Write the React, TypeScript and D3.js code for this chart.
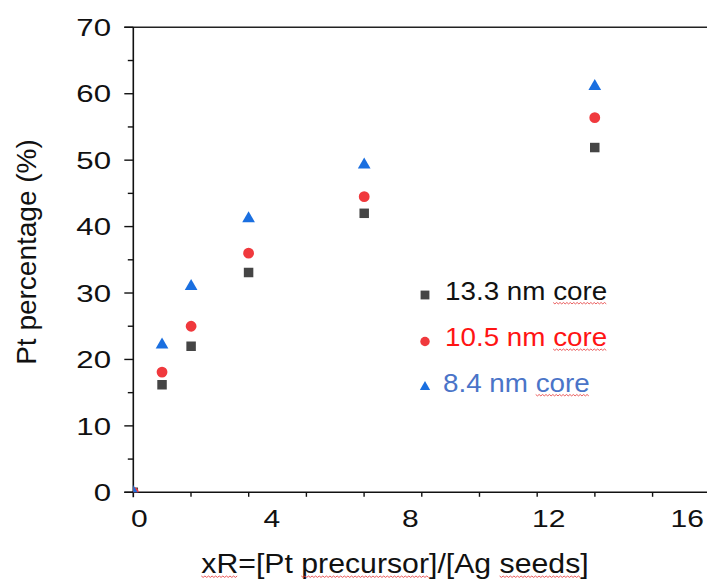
import React, { useRef, useEffect } from 'react';
import * as d3 from 'd3';

// values (x in units of the printed axis labels)
const xR = [0, 0.83, 1.67, 3.33, 6.67, 13.33];
const core133 = [0, 16.2, 22, 33.1, 42, 51.9];
const core105 = [0, 18.1, 25, 36, 44.5, 56.4];
const core84 = [0, 22.2, 31, 41.2, 49.3, 61.1];

const xTickLabels = [0, 4, 8, 12, 16];
const xTickStep = 5 / 3;
const yTickLabels = [0, 10, 20, 30, 40, 50, 60, 70];
const yTickStep = 5;

const seriesNames = ['13.3 nm core', '10.5 nm core', '8.4 nm core'];

const FONT = "Arial, 'Liberation Sans', sans-serif";

// red spell-check style wavy line under a tspan
function squiggleUnder(g: d3.Selection<SVGGElement, unknown, null, undefined>, span: SVGTSpanElement, baseline: number) {
  const len = span.getComputedTextLength();
  const start = span.getStartPositionOfChar(0).x;
  const pts: [number, number][] = [];
  const step = 1.6;
  for (let i = 0; i * step <= len; i++) {
    pts.push([start + i * step, baseline + 3 + (i % 2 === 0 ? 0 : 1.4)]);
  }
  g.append('path')
    .attr('d', d3.line()(pts) as string)
    .attr('fill', 'none')
    .attr('stroke', '#e63c3c')
    .attr('stroke-width', 0.8);
}

const App: React.FC = () => {
  const svgRef = useRef<SVGSVGElement>(null);
  const width = 707;
  const height = 579;

  useEffect(() => {
    if (!svgRef.current) return;
    const svg = d3.select(svgRef.current);
    svg.selectAll('*').remove();

    const x = d3.scaleLinear().domain([0, 16]).range([133.3, 687.2]);
    const y = d3.scaleLinear().domain([0, 70]).range([492.3, 27.3]);
    const x0 = x(0);
    const y0 = y(0);

    const series = [
      { name: seriesNames[0], values: core133, symbol: d3.symbolSquare, size: 90, legendSize: 78, fill: '#454545', text: '#111111' },
      { name: seriesNames[1], values: core105, symbol: d3.symbolCircle, size: 92, legendSize: 70, fill: '#f0393d', text: '#ff1414' },
      { name: seriesNames[2], values: core84, symbol: d3.symbolTriangle, size: 70, legendSize: 46, fill: '#1a6fe0', text: '#4a74c8' },
    ];

    // clip for marks
    svg.append('defs').append('clipPath').attr('id', 'plot-clip')
      .append('rect')
      .attr('x', x0).attr('y', 0)
      .attr('width', width - x0).attr('height', y0);

    // top border
    svg.append('line')
      .attr('x1', x0 - 9).attr('x2', width)
      .attr('y1', y(70)).attr('y2', y(70))
      .attr('stroke', '#222').attr('stroke-width', 1.6);

    // y axis
    const yAxis = svg.append('g');
    yAxis.append('line')
      .attr('x1', x0).attr('x2', x0)
      .attr('y1', y(70)).attr('y2', y0 + 5)
      .attr('stroke', '#111').attr('stroke-width', 1.6);
    d3.range(0, 70 + 0.01, yTickStep).forEach(v => {
      const major = yTickLabels.includes(v);
      yAxis.append('line')
        .attr('x1', x0 - (major ? 9 : 5.5)).attr('x2', x0)
        .attr('y1', y(v)).attr('y2', y(v))
        .attr('stroke', '#111').attr('stroke-width', 1.4);
    });
    yTickLabels.forEach(v => {
      yAxis.append('g')
        .attr('transform', `translate(111, ${y(v)}) scale(1.3, 1)`)
        .append('text')
        .attr('text-anchor', 'end')
        .attr('dy', '0.36em')
        .attr('font-family', FONT)
        .attr('font-size', 24)
        .attr('fill', '#111')
        .text(v);
    });

    // x axis
    const xAxis = svg.append('g');
    xAxis.append('line')
      .attr('x1', x0 - 9).attr('x2', width)
      .attr('y1', y0).attr('y2', y0)
      .attr('stroke', '#111').attr('stroke-width', 1.6);
    d3.range(xTickStep, 16.5, xTickStep).forEach(v => {
      xAxis.append('line')
        .attr('x1', x(v)).attr('x2', x(v))
        .attr('y1', y0).attr('y2', y0 + 4.5)
        .attr('stroke', '#111').attr('stroke-width', 1.4);
    });
    xTickLabels.forEach((v, i) => {
      xAxis.append('g')
        .attr('transform', `translate(${x(v) + (i === 0 ? 6 : 0)}, 526.5) scale(1.25, 1)`)
        .append('text')
        .attr('text-anchor', 'middle')
        .attr('font-family', FONT)
        .attr('font-size', 24)
        .attr('fill', '#111')
        .text(v);
    });

    // x axis title
    const xTitleG = svg.append('g')
      .attr('transform', 'translate(395, 573) scale(1.12, 1)');
    const xTitle = xTitleG.append('text')
      .attr('text-anchor', 'middle')
      .attr('font-family', FONT)
      .attr('font-size', 27)
      .attr('fill', '#111');
    const titleParts: [string, boolean][] = [['xR', true], ['=[Pt ', false], ['precursor', true], [']/[Ag ', false], ['seeds', true], [']', false]];
    const titleSpans: SVGTSpanElement[] = [];
    titleParts.forEach(([t, sq]) => {
      const ts = xTitle.append('tspan').text(t);
      if (sq) titleSpans.push(ts.node() as SVGTSpanElement);
    });
    titleSpans.forEach(sp => squiggleUnder(xTitleG, sp, 0));

    svg.append('text')
      .attr('transform', `translate(36, 252) rotate(-90)`)
      .attr('text-anchor', 'middle')
      .attr('font-family', FONT)
      .attr('font-size', 28)
      .attr('fill', '#111')
      .text('Pt percentage (%)');

    // marks
    const marks = svg.append('g').attr('clip-path', 'url(#plot-clip)');
    series.forEach(s => {
      const sym = d3.symbol().type(s.symbol).size(s.size);
      marks.selectAll(null)
        .data(s.values.map((v, i) => [xR[i], v]))
        .enter()
        .append('path')
        .attr('transform', d => `translate(${x(d[0])}, ${y(d[1])})`)
        .attr('d', sym() as string)
        .attr('fill', s.fill);
    });

    // legend
    const legendRows = [295, 341.5, 387];
    const legend = svg.append('g');
    series.forEach((s, i) => {
      const ly = legendRows[i];
      legend.append('path')
        .attr('transform', `translate(425, ${ly})`)
        .attr('d', d3.symbol().type(s.symbol).size(s.legendSize)() as string)
        .attr('fill', s.fill);
      const words = s.name.split(' ');
      const lg = legend.append('g')
        .attr('transform', `translate(${i === 2 ? 443 : 445}, ${ly + 4.5}) scale(1.07, 1)`);
      const t = lg.append('text')
        .attr('font-family', FONT)
        .attr('font-size', 26)
        .attr('fill', s.text);
      t.append('tspan').text(words.slice(0, -1).join(' ') + ' ');
      const last = t.append('tspan').text(words[words.length - 1]);
      squiggleUnder(lg, last.node() as SVGTSpanElement, 0);
    });
  }, []);

  return (
    <div style={{ position: 'absolute', left: 0, top: 0 }}>
      <svg ref={svgRef} width={width} height={height} style={{ display: 'block', background: '#fff' }}></svg>
    </div>
  );
};

export default App;
